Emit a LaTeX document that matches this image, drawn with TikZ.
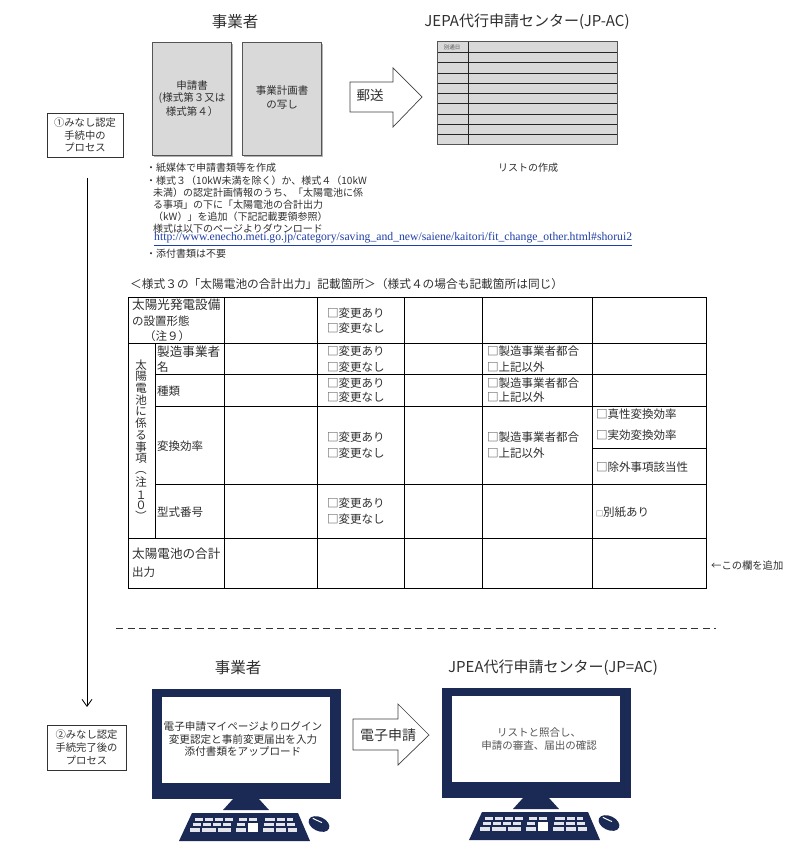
\documentclass[tikz,border=0pt]{standalone}
\usepackage{fontspec}
\setmainfont{Noto Sans CJK JP}
\newfontfamily\urlfont{Liberation Serif}
\usetikzlibrary{arrows.meta}
\definecolor{navy}{HTML}{1B2A55}
\definecolor{docgray}{HTML}{D9D9D9}
\definecolor{txt}{HTML}{2F2F2F}
\definecolor{soft}{HTML}{555555}
\definecolor{linkblue}{HTML}{1F3FA8}
\newcommand{\fs}[1]{\fontsize{#1}{#1}\selectfont}
\newcommand{\computer}[2]{%
\begin{scope}[shift={(#1,#2)}]
 \fill[navy] (0,0) rectangle (189,110);
 \fill[white] (10,8) rectangle (178,94);
 \fill[navy] (81,110) -- (107,110) -- (117,121) -- (71,121) -- cycle;
 \fill[navy] (40,124) -- (146,124) -- (158,152) -- (27,152) -- cycle;
 \foreach \xa/\xb in {43/51,53/61,63/71,73/81,87/95,97/105,113/123,125/133,135/141}
  {\fill[white!88!navy] (\xa,129) rectangle (\xb,132);}
 \foreach \xa/\xb in {41/49,51/59,61/69,71/79,85/93,112/122,124/133,135/143}
  {\fill[white!88!navy] (\xa,134) rectangle (\xb,137);}
 \foreach \xa/\xb in {38/48,50/64,66/79,84/94,111/122,124/134,136/145}
  {\fill[white!88!navy] (\xa,139) rectangle (\xb,142.5);}
 \fill[white] (96,134) rectangle (106,142.5);
 \fill[navy,shift={(167,135)},rotate=-25] (0,0) ellipse (11 and 7);
 \fill[white,shift={(167,135)},rotate=-25] (-8,-3) rectangle (2,-2);
\end{scope}}
\tikzset{
 title/.style={inner sep=0pt,text=txt,font=\fs{15.5}},
 doc/.style={draw=soft,line width=1pt,fill=docgray},
 doctext/.style={inner sep=0pt,align=center,text=txt,font=\fs{10.5},text depth=0pt},
 note/.style={inner sep=0pt,anchor=west,text=txt,font=\fs{10}},
 flow/.style={draw=black!75,line width=.7pt,fill=white},
 procbox/.style={draw=black!80,line width=.8pt,fill=white,align=center,inner sep=0pt,text=txt,font=\fs{10.3}},
 grid/.style={draw=black,line width=.9pt},
 cell/.style={inner sep=0pt,anchor=west,text=txt,font=\fs{11.5}},
 headcell/.style={inner sep=0pt,anchor=west,text=txt,font=\fs{12.6}},
 vert/.style={inner sep=0pt,text=txt,font=\fs{11.5}},
 rowline/.style={draw=black!85,line width=.8pt},
}
\begin{document}
\begin{tikzpicture}[x=1pt,y=-1pt]
\useasboundingbox (0,0) rectangle (793,853);
\fill[white] (0,0) rectangle (793,853);
% ---- top
\node[title] (t1) at (235,22) {事業者};
\node[title,font=\fs{15}] (t2) at (527,22) {JEPA代行申請センター(JP-AC)};
\fill[black!30] (154,44) rectangle (233,157);
\fill[black!30] (244,44) rectangle (323,157);
\node[doc,minimum width=79pt,minimum height=113pt] (d1) at (192,99) {};
\node[doc,minimum width=79pt,minimum height=113pt] (d2) at (282,99) {};
\node[doctext] (d1t) at (192,98) {申請書\\[2pt](様式第３又は\\[2pt]様式第４）};
\node[doctext] (d2t) at (282,97) {事業計画書\\[3pt]の写し};
\draw[flow] (350,82) -- (393,82) -- (393,68) -- (422,97) -- (393,127) -- (393,112) -- (350,112) -- cycle;
\node[inner sep=0pt,text=txt,font=\fs{13.5}] (a1) at (370,95) {郵送};
% list
\fill[docgray] (437,42) rectangle (617,145);
\foreach \y in {52.5,62.7,73,83.2,93.5,103.7,114,124.2,134.5}
 {\draw[rowline] (437,\y) -- (617,\y);}
\draw[soft,line width=1pt] (437,42) rectangle (617,145);
\draw[black!85,line width=1pt] (468,42) -- (468,145);
\node[inner sep=0pt,text=soft,font=\fs{5.5}] (ld) at (452,47.5) {別通日};
\node[inner sep=0pt,text=txt,font=\fs{10}] (lc) at (528,168) {リストの作成};
% notes
\node[note] (n1) at (146,168) {・紙媒体で申請書類等を作成};
\node[note] (n2) at (146,181) {・様式３（10kW未満を除く）か、様式４（10kW};
\node[note] (n3) at (153,193) {未満）の認定計画情報のうち、「太陽電池に係};
\node[note] (n4) at (153,205) {る事項」の下に「太陽電池の合計出力};
\node[note] (n5) at (153,217) {（kW）」を追加（下記記載要領参照）};
\node[note] (n6) at (153,229) {様式は以下のページよりダウンロード};
\node[inner sep=0pt,anchor=west,text=linkblue,font=\urlfont\fs{11.7}] (n7) at (154,239) {\underline{http://www.enecho.meti.go.jp/category/saving\_and\_new/saiene/kaitori/fit\_change\_other.html\#shorui2}};
\node[note] (n8) at (146,254) {・添付書類は不要};
% side boxes
\node[procbox,minimum width=76pt,minimum height=44pt] (p1) at (85,135) {①みなし認定\\[2.5pt]手続中の\\[2.5pt]プロセス};
\node[procbox,minimum width=79pt,minimum height=45pt] (p2) at (86.5,747.5) {②みなし認定\\[2.5pt]手続完了後の\\[2.5pt]プロセス};
\coordinate (fa) at (87,178);
\coordinate (fb) at (87,707);
\draw[black,line width=.8pt,-{Straight Barb[length=7pt,width=10pt]}] (fa) -- (fb);
% table heading
\node[inner sep=0pt,anchor=west,text=txt,font=\fs{11.7}] (h) at (130,284) {＜様式３の「太陽電池の合計出力」記載箇所＞（様式４の場合も記載箇所は同じ）};
% table
\draw[grid] (128,297) rectangle (706,588);
\foreach \y in {343,538} {\draw[grid] (128,\y) -- (706,\y);}
\foreach \y in {374,406,484} {\draw[grid] (155,\y) -- (706,\y);}
\draw[grid] (155,343) -- (155,538);
\foreach \x in {224,317,404,482,592} {\draw[grid] (\x,297) -- (\x,588);}
\draw[grid] (592,448) -- (706,448);
% first column
\node[headcell] (c1) at (132,305) {太陽光発電設備};
\node[cell] (c2) at (132,321) {の設置形態};
\node[cell] (c3) at (144,336) {（注９）};
\node[headcell] (c4) at (157,352) {製造事業者};
\node[cell] (c5) at (157,367) {名};
\node[cell] (c6) at (157,391) {種類};
\node[cell] (c7) at (157,446) {変換効率};
\node[cell] (c8) at (157,512) {型式番号};
\node[headcell] (c9) at (132,554) {太陽電池の合計};
\node[cell] (c10) at (132,572) {出力};
% vertical label
\foreach \c [count=\i] in {太,陽,電,池,に,係,る,事,項} {
 \node[vert] (v\i) at (141,{365+(\i-1)*11.7}) {\c};}
\node[vert,rotate=-90] (v10) at (141,469) {（};
\node[vert] (v11) at (141,482) {注};
\node[vert] (v12) at (141,495) {１};
\node[vert] (v13) at (141,505) {０};
\node[vert,rotate=-90] (v14) at (141,516) {）};
% change column
\foreach \n/\ya/\yb in {a/313/328,b/351/367,c/383/397,d/437/453,e/503/519} {
 \node[cell] (ch\n1) at (327,\ya) {□変更あり};
 \node[cell] (ch\n2) at (327,\yb) {□変更なし};
}
\foreach \n/\ya/\yb in {a/351/367,b/383/397,c/437/453} {
 \node[cell] (mk\n1) at (487,\ya) {□製造事業者都合};
 \node[cell] (mk\n2) at (487,\yb) {□上記以外};
}
\node[cell] (e1) at (596,414) {□真性変換効率};
\node[cell] (e2) at (596,435) {□実効変換効率};
\node[cell] (e3) at (596,467) {□除外事項該当性};
\node[cell] (e4) at (596,512) {{\fs{7}□}別紙あり};
\node[inner sep=0pt,anchor=west,text=txt,font=\fs{10.3}] (add) at (711,566) {←この欄を追加};
% divider
\draw[black!80,line width=1pt,dash pattern=on 7pt off 4.5pt] (116,628) -- (716,628);
% bottom
\node[title] (t3) at (238,668) {事業者};
\node[title,font=\fs{15}] (t4) at (553,668) {JPEA代行申請センター(JP=AC)};
\computer{152}{689}
\computer{442}{688}
\node[inner sep=0pt,align=center,text=txt,font=\fs{10.6}] (s1) at (243,739) {電子申請マイページよりログイン\\[2pt]変更認定と事前変更届出を入力\\[2pt]添付書類をアップロード};
\node[inner sep=0pt,align=center,text=soft,font=\fs{10.5}] (s2) at (539,739) {リストと照合し、\\[2pt]申請の審査、届出の確認};
\draw[flow] (353,719) -- (398,719) -- (398,704) -- (429,735) -- (398,765) -- (398,750) -- (353,750) -- cycle;
\node[inner sep=0pt,text=txt,font=\fs{14}] (a2) at (388,735) {電子申請};
\end{tikzpicture}
\end{document}
